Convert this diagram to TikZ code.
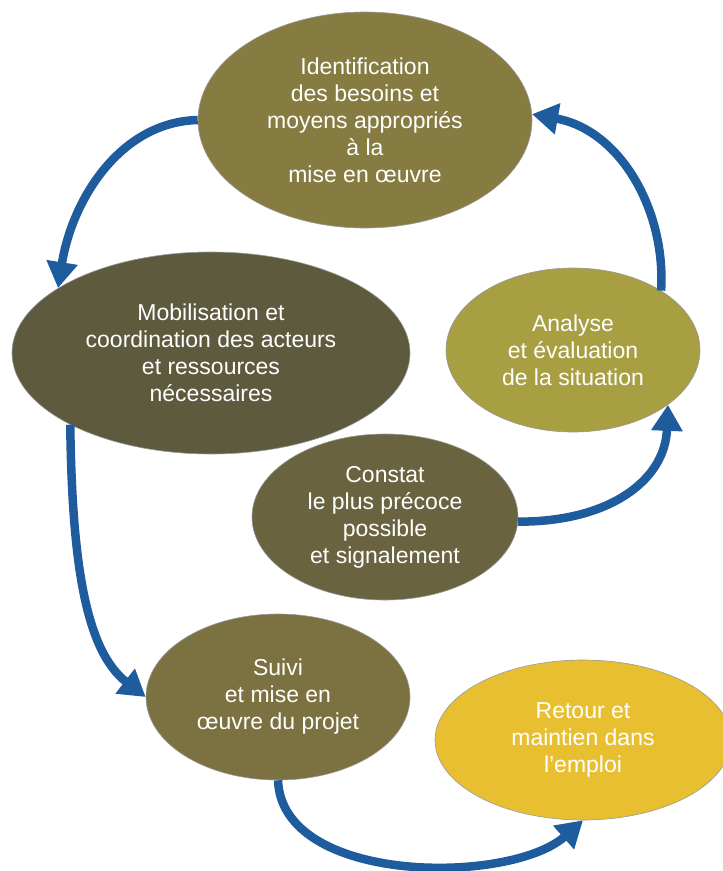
\documentclass[tikz,border=0pt]{standalone}
\usepackage{fontspec}
\setmainfont{Liberation Sans}
\usetikzlibrary{shapes.geometric,arrows.meta}
\definecolor{cIdent}{HTML}{867C42}
\definecolor{cMobil}{HTML}{5D5A3E}
\definecolor{cAnal}{HTML}{A79F42}
\definecolor{cConst}{HTML}{696340}
\definecolor{cSuivi}{HTML}{7C7140}
\definecolor{cRetour}{HTML}{E9BF32}
\definecolor{cArrow}{HTML}{1F5C9E}
\tikzset{
  bubble/.style={ellipse, inner sep=0pt, text=white, align=center,
    font=\fontsize{23}{27}\selectfont, draw=black!40, line width=0.6pt},
  flow/.style={draw=cArrow, line width=8.5pt,
    -{Triangle[length=26pt,width=30pt]}},
}
\begin{document}
\begin{tikzpicture}[x=1pt,y=-1pt]
\useasboundingbox (0,0) rectangle (723,871);
\node[bubble, fill=cIdent, minimum width=334pt, minimum height=216pt] (e1) at (365,120)
  {Identification\\des besoins et\\moyens appropriés\\à la\\mise en œuvre};
\node[bubble, fill=cMobil, minimum width=398pt, minimum height=202pt] (e2) at (211,353)
  {Mobilisation et\\coordination des acteurs\\et ressources\\nécessaires};
\node[bubble, fill=cAnal, minimum width=254pt, minimum height=164pt] (e3) at (573,350)
  {Analyse\\et évaluation\\de la situation};
\node[bubble, fill=cConst, minimum width=266pt, minimum height=166pt] (e4) at (385,517)
  {Constat\\le plus précoce\\possible\\et signalement};
\node[bubble, fill=cSuivi, minimum width=264pt, minimum height=166pt] (e5) at (278,697)
  {Suivi\\et mise en\\œuvre du projet};
\node[bubble, fill=cRetour, minimum width=296pt, minimum height=160pt] (e6) at (583,740)
  {Retour et\\maintien dans\\l’emploi};
\draw[flow] (e1.west) .. controls (120,122) and (72,200) .. (e2.157);
\draw[flow] (e3.34) .. controls (666,210) and (620,130) .. (e1.2);
\draw[flow] (e4.-2) .. controls (610,522) and (665,480) .. (e3.-30);
\draw[flow] (e2.207) .. controls (72,560) and (85,650) .. (e5.west);
\draw[flow] (e5.south) .. controls (282,885) and (510,885) .. (e6.south);
\end{tikzpicture}
\end{document}
